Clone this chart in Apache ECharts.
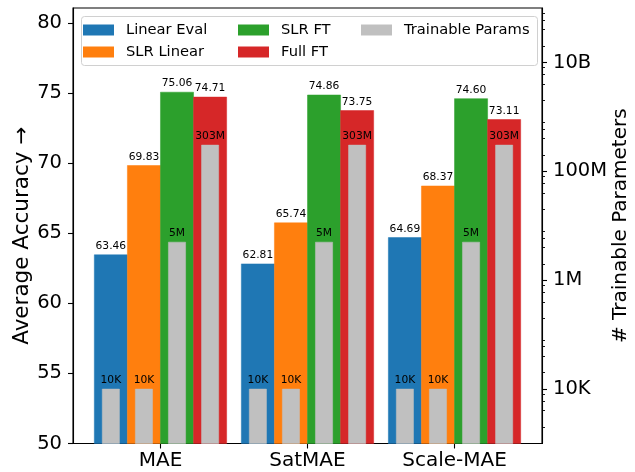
<!DOCTYPE html>
<html>
<head>
<meta charset="utf-8">
<script src="https://cdn.jsdelivr.net/npm/echarts@6/dist/echarts.min.js"></script>
<style>
html,body{margin:0;padding:0;background:#fff;}
#chart{width:635px;height:472px;}
</style>
</head>
<body>
<div id="chart"></div>
<script>
// ---- data ----
const categories = ['MAE', 'SatMAE', 'Scale-MAE'];
const methods = ['Linear Eval', 'SLR Linear', 'SLR FT', 'Full FT'];
const linearEval = [63.46, 62.81, 64.69];
const slrLinear = [69.83, 65.74, 68.37];
const slrFT = [75.06, 74.86, 74.60];
const fullFT = [74.71, 73.75, 73.11];
const paramsLinearEval = [1e4, 1e4, 1e4];
const paramsSlrLinear = [1e4, 1e4, 1e4];
const paramsSlrFT = [5e6, 5e6, 5e6];
const paramsFullFT = [3.03e8, 3.03e8, 3.03e8];
const accTicks = [50, 55, 60, 65, 70, 75, 80];
const paramTicks = [1e4, 1e6, 1e8, 1e10];
const paramMinorMults = [2, 4, 6, 8];
const paramDecades = [3, 4, 5, 6, 7, 8, 9, 10];

// ---- styling ----
const FONT = 'DejaVu Sans';
const colors = ['#1f77b4', '#ff7f0e', '#2ca02c', '#d62728'];
const gray = '#c0c0c0';
const barW = 0.225;      // bar width in x data units
const grayW = 0.117;
const accMin = 50, accMax = 81.065;
const parMin = 1e3, parMax = 1e11;

const accSeries = [linearEval, slrLinear, slrFT, fullFT];
const parSeries = [paramsLinearEval, paramsSlrLinear, paramsSlrFT, paramsFullFT];

function fmtParams(v) {
  if (v >= 1e9) return Math.round(v / 1e9) + 'B';
  if (v >= 1e6) return Math.round(v / 1e6) + 'M';
  if (v >= 1e3) return Math.round(v / 1e3) + 'K';
  return String(v);
}
const minorTicks = [];
paramDecades.forEach(d => paramMinorMults.forEach(m => minorTicks.push(m * Math.pow(10, d))));

function makeRender(offset, width, labelFn, color) {
  return function (params, api) {
    const x = api.value(0) + offset;
    const v = api.value(1);
    const top = api.coord([x, v]);
    const left = api.coord([x - width / 2, v])[0];
    const right = api.coord([x + width / 2, v])[0];
    const cs = params.coordSys;
    const base = cs.y + cs.height;
    return {
      type: 'group',
      children: [
        { type: 'rect', shape: { x: left, y: top[1], width: right - left, height: base - top[1] },
          style: { fill: color, stroke: color, lineWidth: 0.5 } },
        { type: 'text', z2: 100, style: { text: labelFn(v), x: top[0], y: top[1] - 3,
          align: 'center', verticalAlign: 'bottom', fontSize: 10.7, fontFamily: FONT, fill: '#000' } }
      ]
    };
  };
}

const series = [];
methods.forEach((m, j) => {
  const off = (j - 1.5) * barW;
  series.push({
    name: m, type: 'custom', xAxisIndex: 0, yAxisIndex: 0,
    itemStyle: { color: colors[j] },
    renderItem: makeRender(off, barW, v => v.toFixed(2), colors[j]),
    data: accSeries[j].map((v, i) => [i, v]),
    z: 2
  });
});
methods.forEach((m, j) => {
  const off = (j - 1.5) * barW;
  series.push({
    name: 'Trainable Params', type: 'custom', xAxisIndex: 0, yAxisIndex: 1,
    itemStyle: { color: gray },
    renderItem: makeRender(off, grayW, fmtParams, gray),
    data: parSeries[j].map((v, i) => [i, v]),
    z: 3
  });
});

const tickLabel = { fontFamily: FONT, fontSize: 19.5, color: '#000' };
const legendCommon = {
  orient: 'vertical', top: 22.5, padding: 0, itemGap: 7, itemWidth: 31, itemHeight: 11, icon: 'rect',
  textStyle: { fontFamily: FONT, fontSize: 14.7, color: '#000', padding: [0, 0, 0, 7] },
  selectedMode: false
};
const axisLineStyle = { show: true, onZero: false, lineStyle: { color: '#000', width: 1.1 } };

const chart = echarts.init(document.getElementById('chart'), null, { renderer: 'canvas' });
chart.setOption({
  animation: false,
  backgroundColor: '#fff',
  grid: { left: 73, top: 8, width: 469, height: 435.5, show: true, borderColor: '#000', borderWidth: 1.1,
          containLabel: false, outerBoundsMode: 'none' },
  legend: [
    Object.assign({}, legendCommon, { left: 83, data: ['Linear Eval', 'SLR Linear'] }),
    Object.assign({}, legendCommon, { left: 238, data: ['SLR FT', 'Full FT'] }),
    Object.assign({}, legendCommon, { left: 361, data: ['Trainable Params'] })
  ],
  graphic: [{
    type: 'rect', left: 81, top: 16, z: -1, silent: true,
    shape: { width: 456, height: 49, r: 3 },
    style: { fill: 'rgba(255,255,255,0.8)', stroke: '#d0d0d0', lineWidth: 1 }
  }],
  xAxis: [{
    type: 'value', min: -0.595, max: 2.595,
    axisLine: axisLineStyle,
    axisTick: { show: true, length: 5, lineStyle: { color: '#000', width: 1.1 }, customValues: [0, 1, 2] },
    axisLabel: Object.assign({}, tickLabel, { fontSize: 20, margin: 7, customValues: [0, 1, 2],
      formatter: v => categories[Math.round(v)] }),
    splitLine: { show: false }
  }],
  yAxis: [{
    type: 'value', min: accMin, max: accMax, position: 'left',
    name: 'Average Accuracy →', nameLocation: 'middle', nameRotate: 90, nameGap: 40, nameMoveOverlap: false,
    nameTextStyle: { fontFamily: FONT, fontSize: 21.5, color: '#000', padding: [0, 20, 0, 0] },
    axisLine: axisLineStyle,
    axisTick: { show: true, length: 5, lineStyle: { color: '#000', width: 1.1 }, customValues: accTicks },
    axisLabel: Object.assign({}, tickLabel, { margin: 11, customValues: accTicks }),
    splitLine: { show: false }
  }, {
    type: 'log', logBase: 10, min: parMin, max: parMax, position: 'right',
    name: '# Trainable Parameters', nameLocation: 'middle', nameRotate: 90, nameGap: 69, nameMoveOverlap: false,
    nameTextStyle: { fontFamily: FONT, fontSize: 20, color: '#000' },
    axisLine: axisLineStyle,
    axisTick: { show: true, length: 5, lineStyle: { color: '#000', width: 1.1 }, customValues: paramTicks },
    axisLabel: Object.assign({}, tickLabel, { margin: 11, customValues: paramTicks, formatter: v => fmtParams(v) }),
    splitLine: { show: false }
  }, {
    type: 'log', logBase: 10, min: parMin, max: parMax, position: 'right',
    axisLine: { show: false, onZero: false },
    axisTick: { show: true, length: 3, lineStyle: { color: '#000', width: 0.9 }, customValues: minorTicks },
    axisLabel: { show: false },
    splitLine: { show: false }
  }],
  series: series
});
</script>
</body>
</html>
